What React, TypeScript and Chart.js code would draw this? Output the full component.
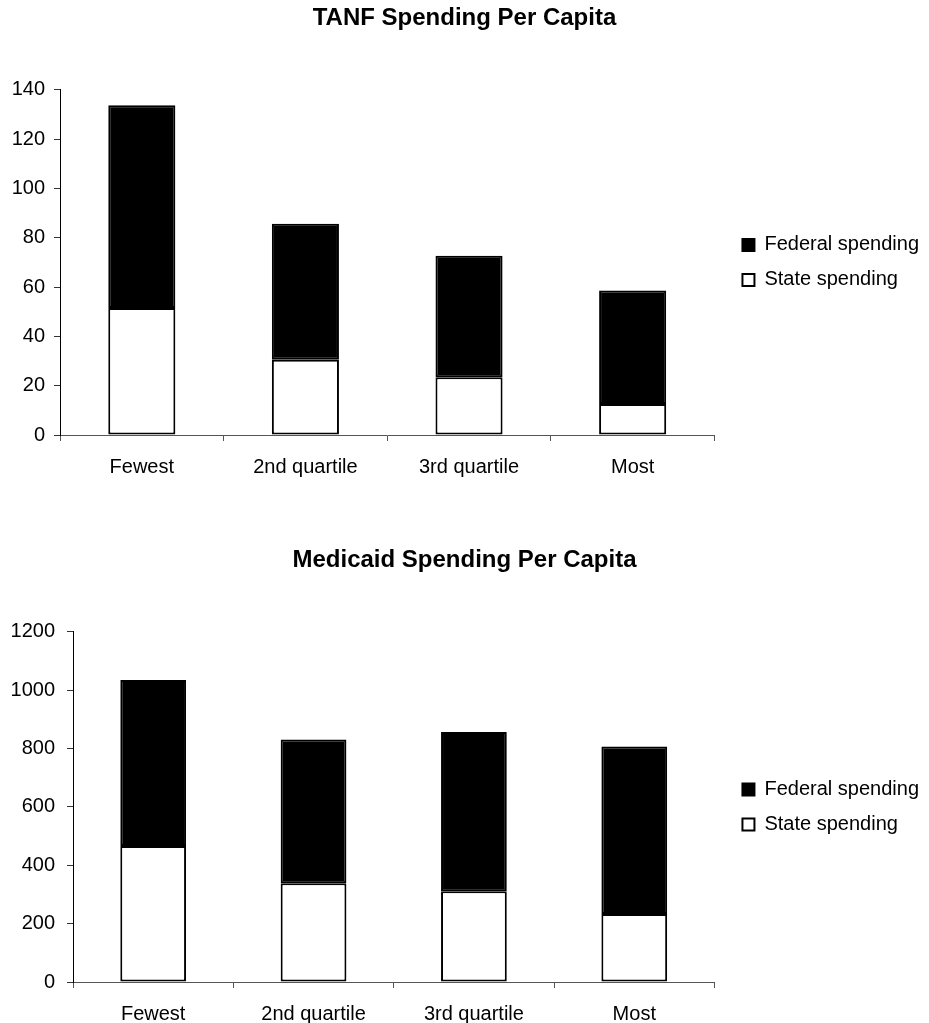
import { useEffect, useRef } from "react";
import { Chart, registerables } from "chart.js";

Chart.register(...registerables);

// Quartile groups shown along the x axis
const categories = ["Fewest", "2nd quartile", "3rd quartile", "Most"];

// TANF spending per capita (dollars)
const tanfState = [51.5, 30.5, 23.4, 12.6];
const tanfFederal = [82.2, 55.2, 49.3, 46.0];
const tanfTicks = [0, 20, 40, 60, 80, 100, 120, 140];

// Medicaid spending per capita (dollars)
const medicaidState = [466, 338, 311, 233];
const medicaidFederal = [569, 493, 546, 574];
const medicaidTicks = [0, 200, 400, 600, 800, 1000, 1200];

const seriesNames = { federal: "Federal spending", state: "State spending" };

const FONT = "'Liberation Sans', Arial, Helvetica, sans-serif";

type PanelProps = {
  title: string;
  state: number[];
  federal: number[];
  ticks: number[];
  height: number;
  axisWidth: number;
  labelPad: number;
  titleTop: number;
  titleBottom: number;
};

function StackedPanel(p: PanelProps) {
  const ref = useRef<HTMLCanvasElement | null>(null);

  useEffect(() => {
    if (!ref.current) return;
    const step = p.ticks[1] - p.ticks[0];
    const chart = new Chart(ref.current, {
      type: "bar",
      data: {
        labels: categories,
        datasets: [
          {
            label: seriesNames.state,
            data: p.state,
            backgroundColor: "#ffffff",
            borderColor: "#000000",
            borderWidth: 2,
            borderSkipped: false,
          },
          {
            label: seriesNames.federal,
            data: p.federal,
            backgroundColor: "#000000",
            borderColor: "#000000",
            borderWidth: 2,
            borderSkipped: false,
          },
        ],
      },
      options: {
        animation: false,
        responsive: true,
        maintainAspectRatio: false,
        devicePixelRatio: 1,
        layout: { padding: 0 },
        datasets: {
          bar: { categoryPercentage: 1, barPercentage: 0.41 },
        },
        scales: {
          x: {
            stacked: true,
            grid: {
              display: true,
              drawOnChartArea: false,
              drawTicks: true,
              tickLength: 6,
              color: "#555555",
              offset: true,
            },
            border: { display: true, color: "#555555", width: 1 },
            ticks: {
              color: "#000000",
              padding: 14,
              font: { family: FONT, size: 20 },
              maxRotation: 0,
            },
          },
          y: {
            stacked: true,
            min: p.ticks[0],
            max: p.ticks[p.ticks.length - 1],
            afterFit: (s: any) => {
              s.width = p.axisWidth;
            },
            grid: {
              display: true,
              drawOnChartArea: false,
              drawTicks: true,
              tickLength: 6,
              color: "#333333",
            },
            border: { display: true, color: "#000000", width: 1 },
            ticks: {
              stepSize: step,
              color: "#000000",
              padding: p.labelPad,
              font: { family: FONT, size: 20 },
              callback: (v: any) => String(v),
            },
          },
          // hidden spacer between the plot and the legend
          gap: {
            type: "linear",
            position: "right",
            display: false,
            afterFit: (s: any) => {
              s.width = 13;
            },
          },
        },
        plugins: {
          title: {
            display: true,
            text: p.title,
            color: "#000000",
            font: { family: FONT, size: 24, weight: "bold" },
            padding: { top: p.titleTop, bottom: p.titleBottom },
          },
          legend: {
            display: true,
            position: "right",
            align: "center",
            fullSize: false,
            reverse: true,
            labels: {
              boxWidth: 12,
              boxHeight: 12,
              padding: 15,
              color: "#000000",
              font: { family: FONT, size: 20 },
            },
          },
          tooltip: { enabled: false },
        },
      },
    } as any);
    return () => chart.destroy();
  }, []);

  return (
    <div style={{ position: "relative", width: 929, height: p.height }}>
      <canvas ref={ref} />
    </div>
  );
}

export default function App() {
  return (
    <div style={{ position: "absolute", left: 0, top: 0, width: 929, background: "#ffffff" }}>
      <StackedPanel
        title="TANF Spending Per Capita"
        state={tanfState}
        federal={tanfFederal}
        ticks={tanfTicks}
        height={493}
        axisWidth={60}
        labelPad={9}
        titleTop={4}
        titleBottom={57}
      />
      <StackedPanel
        title="Medicaid Spending Per Capita"
        state={medicaidState}
        federal={medicaidFederal}
        ticks={medicaidTicks}
        height={547}
        axisWidth={73}
        labelPad={12}
        titleTop={53}
        titleBottom={57}
      />
    </div>
  );
}
